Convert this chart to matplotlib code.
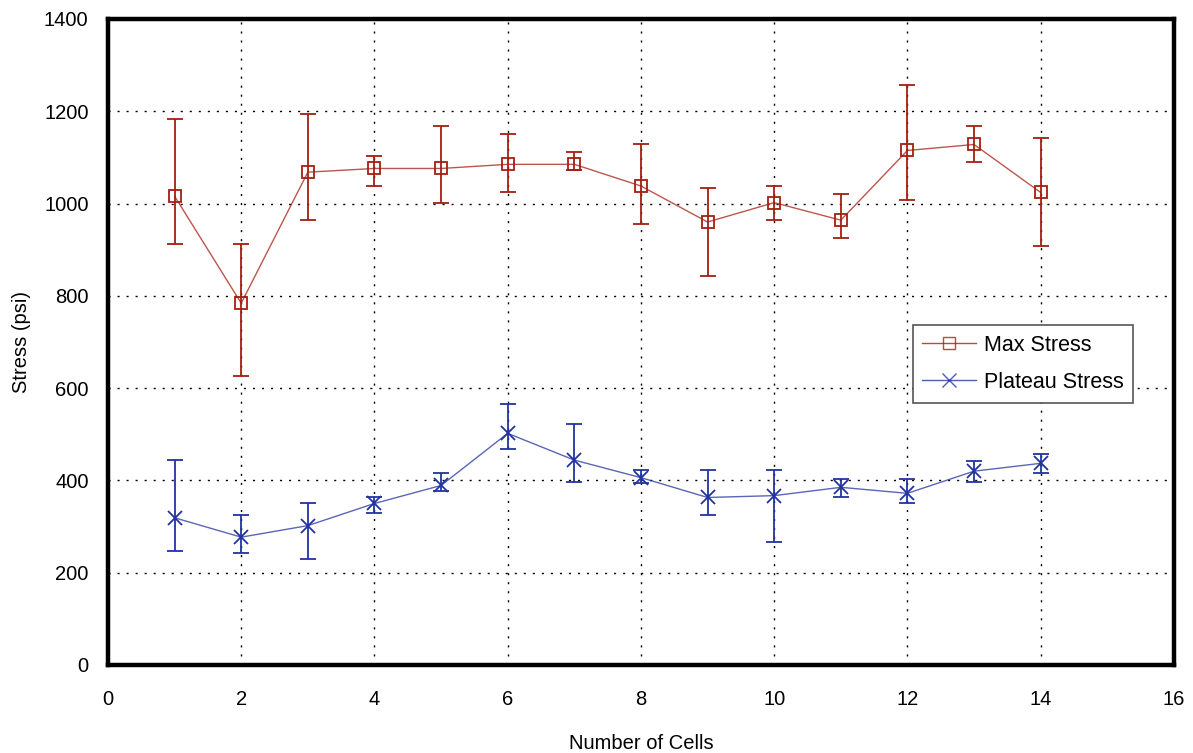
import numpy as np
import matplotlib
matplotlib.use("Agg")
import matplotlib.pyplot as plt

plt.rcParams['font.family'] = ['Liberation Sans', 'DejaVu Sans']

cells = [1, 2, 3, 4, 5, 6, 7, 8, 9, 10, 11, 12, 13, 14]

# Max stress: mean, lower and upper ends of error bars (psi)
max_mean = [1016, 784, 1068, 1076, 1076, 1085, 1085, 1038, 960, 1002, 964, 1115, 1128, 1024]
max_low = [912, 626, 964, 1037, 1002, 1024, 1073, 955, 842, 964, 925, 1007, 1089, 908]
max_high = [1184, 912, 1193, 1102, 1167, 1150, 1111, 1128, 1033, 1037, 1020, 1257, 1167, 1141]

# Plateau stress
plat_mean = [319, 277, 302, 350, 389, 502, 444, 406, 363, 367, 385, 372, 420, 437]
plat_low = [246, 242, 229, 329, 376, 467, 397, 394, 324, 267, 363, 350, 397, 415]
plat_high = [444, 324, 350, 363, 415, 566, 523, 423, 423, 423, 402, 402, 441, 458]

RED = "#A51E12"
BLUE = "#2233A0"

fig = plt.figure(figsize=(11.93, 7.53), dpi=100)
ax = fig.add_axes([0.0905, 0.1169, 0.8935, 0.8579])

def draw(mean, low, high, color, marker, label):
    mean = np.array(mean)
    yerr = [mean - np.array(low), np.array(high) - mean]
    ms = 10 if marker == 'x' else 8
    ax.errorbar(cells, mean, yerr=yerr, fmt='none', ecolor=color, elinewidth=1.3,
                capsize=6, capthick=1.3, zorder=3)
    ax.plot(cells, mean, color=color, lw=1.0, alpha=0.75, zorder=4)
    ax.plot(cells, mean, linestyle='none', marker=marker, markersize=ms,
            markerfacecolor='none', markeredgecolor=color, markeredgewidth=1.3, zorder=5)
    ax.plot([], [], color=color, lw=1.0, alpha=0.8, marker=marker, markersize=ms,
            markerfacecolor='none', markeredgecolor=color, label=label)

draw(max_mean, max_low, max_high, RED, 's', "Max Stress")
draw(plat_mean, plat_low, plat_high, BLUE, 'x', "Plateau Stress")

ax.set_xlim(0, 16)
ax.set_ylim(0, 1400)
ax.set_xticks(range(0, 17, 2))
ax.set_yticks(range(0, 1401, 200))
ax.grid(True, color='black', linestyle=(0, (1.5, 5)), linewidth=1.0)
ax.tick_params(length=0, labelsize=14.5)
ax.tick_params(axis='x', pad=18)
ax.tick_params(axis='y', pad=14)
for s in ax.spines.values():
    s.set_linewidth(3.2)

ax.set_xlabel("Number of Cells", fontsize=14.5, labelpad=18)
ax.set_ylabel("Stress (psi)", fontsize=14.5, labelpad=9)

leg = ax.legend(loc='upper left', bbox_to_anchor=(0.755, 0.526), borderaxespad=0,
                fontsize=15.5, fancybox=False, edgecolor='#555555', framealpha=1,
                handlelength=2.5, handletextpad=0.35, borderpad=0.45, labelspacing=0.75)
leg.get_frame().set_linewidth(1.2)

fig.savefig("out.png", dpi=100)
